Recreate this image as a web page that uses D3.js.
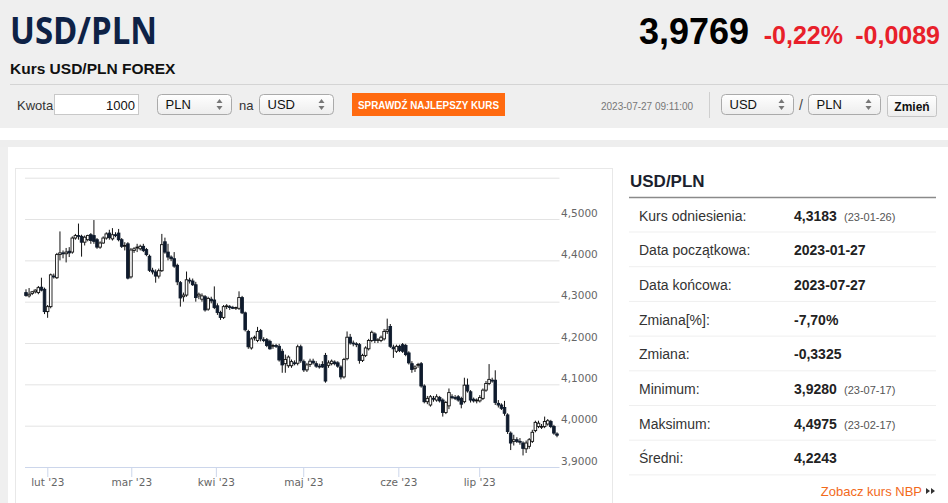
<!DOCTYPE html>
<html>
<head>
<meta charset="utf-8">
<title>Kurs USD/PLN FOREX</title>
<script src="https://cdn.jsdelivr.net/npm/d3@7"></script>
<style>
  html, body { margin: 0; padding: 0; background: #fff; overflow: hidden; }
  svg { display: block; font-family: "Liberation Sans", Arial, sans-serif; }
</style>
</head>
<body>
<svg id="page" width="948" height="503"></svg>
<script>
// daily candles [open, high, low, close], 2023-01-27 .. 2023-07-27
const ohlc = [
  [4.322,4.330,4.312,4.315],[4.314,4.333,4.310,4.318],[4.320,4.326,4.316,4.324],[4.324,4.330,4.320,4.328],
  [4.322,4.338,4.318,4.334],[4.335,4.358,4.325,4.328],[4.330,4.334,4.270,4.276],[4.276,4.292,4.261,4.288],
  [4.288,4.368,4.284,4.365],[4.362,4.368,4.356,4.360],[4.358,4.418,4.355,4.414],[4.414,4.470,4.400,4.418],
  [4.418,4.424,4.405,4.416],[4.416,4.430,4.395,4.420],[4.422,4.432,4.408,4.418],[4.420,4.458,4.416,4.454],
  [4.454,4.464,4.450,4.460],[4.460,4.489,4.450,4.458],[4.458,4.462,4.409,4.444],[4.444,4.460,4.436,4.456],
  [4.450,4.462,4.446,4.460],[4.462,4.466,4.440,4.448],[4.460,4.4975,4.440,4.446],[4.450,4.454,4.428,4.432],
  [4.432,4.446,4.428,4.442],[4.442,4.458,4.440,4.454],[4.454,4.468,4.450,4.464],[4.466,4.474,4.450,4.455],
  [4.452,4.478,4.448,4.462],[4.462,4.468,4.456,4.460],[4.466,4.476,4.446,4.450],[4.450,4.454,4.430,4.434],
  [4.434,4.444,4.424,4.436],[4.440,4.444,4.354,4.357],[4.360,4.430,4.356,4.425],[4.424,4.432,4.418,4.428],
  [4.430,4.440,4.420,4.432],[4.428,4.438,4.424,4.434],[4.434,4.440,4.420,4.424],[4.426,4.430,4.410,4.414],
  [4.410,4.414,4.372,4.376],[4.376,4.382,4.366,4.372],[4.372,4.378,4.346,4.362],[4.362,4.380,4.356,4.375],
  [4.375,4.464,4.372,4.438],[4.445,4.455,4.416,4.420],[4.420,4.440,4.400,4.408],[4.408,4.412,4.398,4.404],
  [4.404,4.420,4.382,4.386],[4.388,4.392,4.340,4.348],[4.346,4.350,4.288,4.309],[4.312,4.322,4.300,4.316],
  [4.316,4.373,4.312,4.353],[4.352,4.358,4.344,4.350],[4.350,4.356,4.338,4.341],[4.341,4.348,4.300,4.310],
  [4.314,4.322,4.306,4.318],[4.306,4.320,4.300,4.314],[4.312,4.316,4.276,4.280],[4.282,4.312,4.278,4.308],
  [4.306,4.312,4.296,4.302],[4.304,4.337,4.282,4.286],[4.290,4.296,4.268,4.274],[4.274,4.278,4.256,4.262],
  [4.262,4.292,4.258,4.288],[4.288,4.294,4.282,4.290],[4.288,4.292,4.280,4.286],[4.286,4.290,4.282,4.284],
  [4.284,4.288,4.280,4.286],[4.284,4.325,4.280,4.310],[4.310,4.314,4.270,4.273],[4.273,4.276,4.228,4.232],
  [4.228,4.232,4.186,4.191],[4.188,4.214,4.184,4.210],[4.212,4.218,4.206,4.214],[4.206,4.239,4.202,4.228],
  [4.230,4.234,4.204,4.210],[4.208,4.214,4.202,4.206],[4.208,4.212,4.190,4.194],[4.204,4.208,4.184,4.186],
  [4.192,4.198,4.186,4.194],[4.194,4.198,4.188,4.192],[4.192,4.198,4.155,4.159],[4.180,4.186,4.128,4.147],
  [4.150,4.172,4.128,4.160],[4.145,4.170,4.140,4.166],[4.145,4.160,4.140,4.155],[4.152,4.158,4.146,4.150],
  [4.151,4.196,4.146,4.191],[4.191,4.196,4.152,4.157],[4.155,4.160,4.130,4.135],[4.135,4.152,4.130,4.147],
  [4.148,4.162,4.142,4.156],[4.156,4.162,4.148,4.152],[4.150,4.156,4.140,4.144],[4.144,4.150,4.138,4.142],
  [4.148,4.156,4.140,4.142],[4.170,4.176,4.104,4.108],[4.146,4.158,4.140,4.152],[4.150,4.160,4.146,4.156],
  [4.154,4.158,4.146,4.150],[4.152,4.156,4.140,4.144],[4.142,4.146,4.112,4.118],[4.118,4.164,4.114,4.160],
  [4.162,4.228,4.158,4.214],[4.214,4.222,4.196,4.200],[4.200,4.206,4.192,4.198],[4.198,4.202,4.190,4.196],
  [4.196,4.200,4.150,4.158],[4.158,4.174,4.154,4.170],[4.170,4.192,4.166,4.188],[4.186,4.210,4.182,4.206],
  [4.206,4.230,4.202,4.226],[4.222,4.226,4.200,4.206],[4.206,4.212,4.200,4.208],[4.206,4.218,4.202,4.214],
  [4.210,4.234,4.206,4.228],[4.228,4.259,4.222,4.232],[4.240,4.246,4.188,4.192],[4.190,4.196,4.164,4.186],
  [4.180,4.196,4.176,4.192],[4.192,4.196,4.178,4.182],[4.196,4.200,4.176,4.180],[4.194,4.198,4.168,4.172],
  [4.176,4.180,4.148,4.152],[4.150,4.156,4.128,4.136],[4.138,4.146,4.130,4.142],[4.146,4.152,4.140,4.148],
  [4.150,4.154,4.092,4.096],[4.096,4.100,4.054,4.058],[4.058,4.072,4.052,4.066],[4.050,4.074,4.046,4.070],
  [4.066,4.072,4.058,4.064],[4.062,4.076,4.058,4.070],[4.068,4.072,4.056,4.060],[4.062,4.066,4.022,4.032],
  [4.032,4.060,4.028,4.056],[4.048,4.090,4.040,4.080],[4.070,4.076,4.064,4.068],[4.068,4.074,4.062,4.066],
  [4.070,4.074,4.058,4.062],[4.066,4.070,4.042,4.052],[4.058,4.116,4.054,4.098],[4.098,4.114,4.080,4.084],
  [4.082,4.086,4.056,4.062],[4.064,4.068,4.056,4.060],[4.060,4.066,4.054,4.062],[4.060,4.074,4.056,4.068],
  [4.066,4.090,4.062,4.086],[4.086,4.108,4.082,4.102],[4.102,4.149,4.098,4.112],[4.110,4.116,4.104,4.108],
  [4.110,4.134,4.050,4.056],[4.054,4.062,4.044,4.050],[4.050,4.054,4.038,4.042],[4.044,4.060,4.024,4.030],
  [4.026,4.030,3.980,3.986],[3.982,3.986,3.941,3.958],[3.962,3.978,3.952,3.966],[3.966,3.972,3.958,3.962],
  [3.962,3.970,3.954,3.960],[3.958,3.962,3.928,3.945],[3.944,3.964,3.934,3.958],[3.950,3.970,3.944,3.966],
  [3.962,3.990,3.958,3.984],[3.988,4.012,3.984,4.008],[3.998,4.012,3.994,4.006],[3.998,4.004,3.992,3.998],
  [3.998,4.022,3.994,4.010],[4.004,4.016,4.000,4.012],[4.010,4.014,3.994,3.998],[3.998,4.002,3.978,3.982],
  [3.980,3.984,3.972,3.9769]
];

// month ticks, given as positions on the candle index axis
const monthLabels = ["lut '23", "mar '23", "kwi '23", "maj '23", "cze '23", "lip '23"];
const monthTickPos = [6.9, 34.1, 61.5, 89.8, 120.6, 146.8];
const yTicks = [3.9, 4.0, 4.1, 4.2, 4.3, 4.4, 4.5, 4.6];

// side table
const statLabels = ["Kurs odniesienia:", "Data początkowa:", "Data końcowa:", "Zmiana[%]:",
                    "Zmiana:", "Minimum:", "Maksimum:", "Średni:"];
const statValues = ["4,3183", "2023-01-27", "2023-07-27", "-7,70%", "-0,3325", "3,9280", "4,4975", "4,2243"];
const statDates  = ["(23-01-26)", "", "", "", "", "(23-07-17)", "(23-02-17)", ""];

const quote = { last: "3,9769", pct: "-0,22%", chg: "-0,0089", time: "2023-07-27 09:11:00" };

const pl = d3.formatLocale({ decimal: ",", thousands: " ", grouping: [3], currency: ["", " zł"] });
const fmt4 = pl.format(".4f");

const svg = d3.select('#page');

// ---------- backgrounds ----------
const defs = svg.append('defs');
const grad = defs.append('linearGradient').attr('id', 'sel').attr('x1', 0).attr('x2', 0).attr('y1', 0).attr('y2', 1);
grad.append('stop').attr('offset', '0%').attr('stop-color', '#ffffff');
grad.append('stop').attr('offset', '100%').attr('stop-color', '#ededed');

svg.append('rect').attr('width', 948).attr('height', 128).attr('fill', '#efefef');
svg.append('rect').attr('y', 140).attr('width', 948).attr('height', 7).attr('fill', '#eeeeee');
svg.append('rect').attr('y', 147).attr('width', 8).attr('height', 356).attr('fill', '#efefef');

// ---------- header ----------
svg.append('text').attr('x', 10).attr('y', 44)
  .style('font-family', '"Open Sans", sans-serif').style('font-weight', 700)
  .style('font-size', '37px').attr('fill', '#0e2246')
  .attr('textLength', 147).attr('lengthAdjust', 'spacingAndGlyphs').text('USD/PLN');
svg.append('text').attr('x', 10).attr('y', 73.5)
  .style('font-weight', 'bold').style('font-size', '15.5px').attr('fill', '#111')
  .text('Kurs USD/PLN FOREX');

svg.append('text').attr('x', 749).attr('y', 44).attr('text-anchor', 'end')
  .style('font-weight', 'bold').style('font-size', '36px').attr('fill', '#000').text(quote.last);
svg.append('text').attr('x', 843).attr('y', 43.5).attr('text-anchor', 'end')
  .style('font-weight', 'bold').style('font-size', '25px').attr('fill', '#e8202a').text(quote.pct);
svg.append('text').attr('x', 940).attr('y', 43.5).attr('text-anchor', 'end')
  .style('font-weight', 'bold').style('font-size', '25px').attr('fill', '#e8202a').text(quote.chg);

svg.append('line').attr('x1', 10).attr('x2', 948).attr('y1', 84.5).attr('y2', 84.5)
  .attr('stroke', '#d4d4d4');

// converter row
svg.append('text').attr('x', 17).attr('y', 109.5).style('font-size', '13px').attr('fill', '#333').text('Kwota');
svg.append('rect').attr('x', 54.5).attr('y', 94.5).attr('width', 84).attr('height', 20)
  .attr('fill', '#fff').attr('stroke', '#c8c8c8');
svg.append('text').attr('x', 135).attr('y', 109.5).attr('text-anchor', 'end')
  .style('font-size', '13px').attr('fill', '#111').text('1000');

function selectBox(x, w, label) {
  const g = svg.append('g').attr('transform', `translate(${x},94.5)`);
  g.append('rect').attr('width', w).attr('height', 20).attr('rx', 4)
    .attr('fill', 'url(#sel)').attr('stroke', '#aaa');
  g.append('text').attr('x', 8).attr('y', 14.5).style('font-size', '13px').attr('fill', '#111').text(label);
  g.append('path').attr('d', `M${w - 15},8.5 l3,-4 l3,4 z M${w - 15},11.5 l3,4 l3,-4 z`).attr('fill', '#777');
}
selectBox(157.5, 74, 'PLN');
svg.append('text').attr('x', 239).attr('y', 109.5).style('font-size', '13px').attr('fill', '#333').text('na');
selectBox(259.5, 74, 'USD');

svg.append('rect').attr('x', 352).attr('y', 93).attr('width', 153).attr('height', 23).attr('fill', '#ff6a10');
svg.append('text').attr('x', 428.5).attr('y', 108.5).attr('text-anchor', 'middle')
  .style('font-size', '11.5px').style('font-weight', 'bold').attr('fill', '#fff')
  .attr('textLength', 141).attr('lengthAdjust', 'spacingAndGlyphs')
  .text('SPRAWDŹ NAJLEPSZY KURS');

svg.append('text').attr('x', 601).attr('y', 110).style('font-size', '10px').attr('fill', '#777').text(quote.time);
svg.append('line').attr('x1', 709.5).attr('x2', 709.5).attr('y1', 92).attr('y2', 118).attr('stroke', '#cfcfcf');
selectBox(721.5, 72, 'USD');
svg.append('text').attr('x', 799).attr('y', 110).style('font-size', '14px').attr('fill', '#444').text('/');
selectBox(808.5, 72, 'PLN');
svg.append('rect').attr('x', 887.5).attr('y', 95.5).attr('width', 49).attr('height', 21).attr('rx', 2)
  .attr('fill', 'url(#sel)').attr('stroke', '#c4c4c4');
svg.append('text').attr('x', 912).attr('y', 110.5).attr('text-anchor', 'middle')
  .style('font-size', '12px').style('font-weight', 'bold').attr('fill', '#111').text('Zmień');

// ---------- chart ----------
svg.append('rect').attr('x', 15.5).attr('y', 168.5).attr('width', 597).attr('height', 400)
  .attr('fill', '#fff').attr('stroke', '#e8e8e8');

const plotL = 25, plotR = 559.5;
const x = d3.scaleLinear().domain([0, ohlc.length - 1]).range([26, 557]);
const y = d3.scaleLinear().domain([3.9, 4.6]).range([467, 177.7]);

const yAxis = svg.append('g').attr('transform', `translate(${plotR},0)`)
  .call(d3.axisRight(y).tickValues(yTicks).tickSize(-(plotR - plotL)).tickPadding(1.5)
    .tickFormat(d => d >= 4.55 ? '' : fmt4(d)));
yAxis.select('.domain').remove();
yAxis.selectAll('.tick line').attr('stroke', d => d === 3.9 ? '#ccd6eb' : '#e3e3e3');
yAxis.selectAll('.tick text').attr('dy', -3).attr('fill', '#666')
  .style('font-family', '"DejaVu Sans", sans-serif').style('font-size', '10.5px');

const xAxis = svg.append('g').attr('transform', `translate(0,${y(3.9)})`)
  .call(d3.axisBottom(x).tickValues(monthTickPos).tickFormat((d, i) => monthLabels[i])
    .tickSize(10).tickPadding(2));
xAxis.select('.domain').remove();
xAxis.selectAll('.tick line').attr('stroke', '#ccd6eb');
xAxis.selectAll('.tick text').attr('fill', '#666')
  .style('font-family', '"DejaVu Sans", sans-serif').style('font-size', '10.5px');

const bodyW = 2.6;
const candles = svg.append('g').selectAll('g').data(ohlc).join('g');
candles.append('line')
  .attr('x1', (d, i) => x(i)).attr('x2', (d, i) => x(i))
  .attr('y1', d => y(d[1])).attr('y2', d => y(d[2]))
  .attr('stroke', '#111').attr('stroke-width', 1);
candles.append('rect')
  .attr('x', (d, i) => x(i) - bodyW / 2).attr('width', bodyW)
  .attr('y', d => y(Math.max(d[0], d[3])))
  .attr('height', d => Math.max(0.8, Math.abs(y(d[0]) - y(d[3]))))
  .attr('fill', d => d[3] >= d[0] ? '#fff' : '#0f1b2d')
  .attr('stroke', d => d[3] >= d[0] ? '#111' : '#0f1b2d').attr('stroke-width', 0.9);

// ---------- side table ----------
svg.append('text').attr('x', 630).attr('y', 187).style('font-size', '17px').style('font-weight', 'bold')
  .attr('fill', '#1b1f2e').text('USD/PLN');
svg.append('line').attr('x1', 629).attr('x2', 936).attr('y1', 197.5).attr('y2', 197.5)
  .attr('stroke', '#8a8a8a').attr('stroke-width', 1.3);

const row = d3.scaleLinear().domain([0, 1]).range([197.3, 232]);
const rows = svg.append('g').selectAll('g').data(statLabels).join('g')
  .attr('transform', (d, i) => `translate(0,${row(i)})`);
rows.append('line').attr('x1', 629).attr('x2', 936).attr('y1', 34.7).attr('y2', 34.7)
  .attr('stroke', '#efefef');
rows.append('text').attr('x', 639).attr('y', 23.3).style('font-size', '14px').attr('fill', '#333').text(d => d);
rows.append('text').attr('x', 794).attr('y', 23.3).style('font-size', '14px').style('font-weight', 'bold')
  .attr('fill', '#222').text((d, i) => statValues[i]);
rows.append('text').attr('x', 844).attr('y', 23.3).style('font-size', '11px').attr('fill', '#555')
  .text((d, i) => statDates[i]);

svg.append('text').attr('x', 922).attr('y', 496).attr('text-anchor', 'end')
  .style('font-size', '13px').attr('fill', '#f26a1b').text('Zobacz kurs NBP');
svg.append('path').attr('d', 'M926,488 l4,3 l-4,3 z M931,488 l4,3 l-4,3 z').attr('fill', '#333');
</script>
</body>
</html>
